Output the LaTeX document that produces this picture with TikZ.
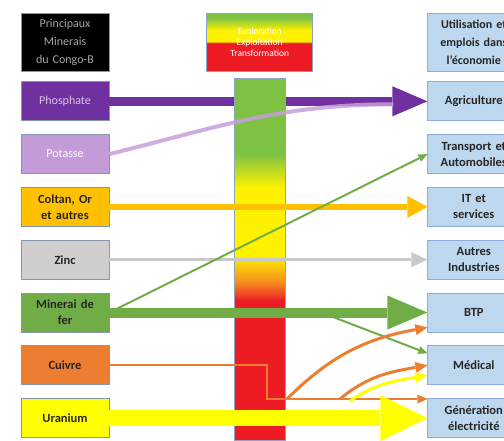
\documentclass[tikz,border=0pt]{standalone}
\usepackage{fontspec}
\setmainfont{Carlito}
\usetikzlibrary{positioning, arrows.meta, calc}

\definecolor{violetfonce}{HTML}{7030A0}
\definecolor{violetclair}{HTML}{C39BD8}
\definecolor{potassetrait}{HTML}{C79FDA}
\definecolor{lavande}{HTML}{D9C6EA}
\definecolor{coltanjaune}{HTML}{FFC000}
\definecolor{zincgris}{HTML}{D0CECE}
\definecolor{zincfleche}{HTML}{C9C9C9}
\definecolor{fervert}{HTML}{70AD47}
\definecolor{cuivreorange}{HTML}{ED7D31}
\definecolor{uraniumjaune}{HTML}{FFFF00}
\definecolor{usagebleu}{HTML}{BDD7EE}
\definecolor{usagebord}{HTML}{8FAADC}
\definecolor{bord}{HTML}{8497B0}
\definecolor{texte}{HTML}{262626}
\definecolor{grisclair}{HTML}{A6A6A6}
\definecolor{barrevert}{HTML}{7DC242}
\definecolor{barrejaune}{HTML}{FFF200}
\definecolor{barreorange}{HTML}{F7941D}
\definecolor{barrerouge}{HTML}{ED1C24}
\definecolor{barrebord}{HTML}{8EA3C8}

\pgfdeclareverticalshading{etapeshade}{100bp}{color(0bp)=(barrerouge); color(49bp)=(barrerouge); color(50.5bp)=(barrejaune); color(60bp)=(barrejaune); color(71bp)=(barrevert); color(100bp)=(barrevert)}
\pgfdeclareverticalshading{barreshade}{100bp}{color(0bp)=(barrerouge); color(44.3bp)=(barrerouge); color(47.1bp)=(barreorange); color(50.6bp)=(barrejaune); color(59.9bp)=(barrejaune); color(64.6bp)=(barrevert); color(100bp)=(barrevert)}

\tikzstyle{case} = [rectangle, minimum width=88pt, minimum height=39pt, text width=86pt, align=center, inner sep=0pt, draw=bord, line width=0.8pt, text=texte, font=\fontsize{12.5}{16}\selectfont\bfseries]
\tikzstyle{clair} = [font=\fontsize{12}{16}\selectfont]
\tikzstyle{entete} = [case, minimum height=58pt, font=\fontsize{12}{18}\selectfont]
\tikzstyle{usage} = [fill=usagebleu, draw=usagebord, minimum width=92pt, text width=90pt]
\tikzstyle{barre} = [rectangle, minimum width=51pt, minimum height=362pt, draw=barrebord, line width=0.6pt, shading=barreshade]

\begin{document}
\begin{tikzpicture}[x=1pt, y=1pt]
    \useasboundingbox (0,0) rectangle (504,-440);
    \clip (0,0) rectangle (504,-440);

    % minerais
    \node (minerais) [entete, fill=black, text=grisclair] at (65,-42) {Principaux\\Minerais\\du Congo-B};
    \node (phosphate) [case, clair, fill=violetfonce, text=lavande, below=10pt of minerais] {Phosphate};
    \node (potasse) [case, clair, fill=violetclair, text=white, below=13pt of phosphate] {Potasse};
    \node (coltan) [case, fill=coltanjaune, below=13pt of potasse] {Coltan, Or\\et autres};
    \node (zinc) [case, fill=zincgris, below=13pt of coltan] {Zinc};
    \node (fer) [case, fill=fervert, below=13pt of zinc] {Minerai de\\fer};
    \node (cuivre) [case, fill=cuivreorange, below=13pt of fer] {Cuivre};
    \node (uranium) [case, fill=uraniumjaune, below=13pt of cuivre] {Uranium};

    % usages
    \node (utilisation) [entete, usage, font=\fontsize{12}{18}\selectfont\bfseries, right=318pt of minerais] {Utilisation et\\emplois dans\\l'économie};
    \node (agri) [case, usage, below=10pt of utilisation] {Agriculture};
    \node (transport) [case, usage, below=13pt of agri] {Transport et\\Automobiles};
    \node (it) [case, usage, below=13pt of transport] {IT et\\services};
    \node (autres) [case, usage, below=13pt of it] {Autres\\Industries};
    \node (btp) [case, usage, below=13pt of autres] {BTP};
    \node (medical) [case, usage, below=13pt of btp] {Médical};
    \node (generation) [case, usage, below=13pt of medical] {Génération\\électricité};

    % etapes
    \node (etapes) [entete, shading=etapeshade, draw=barrebord, line width=0.6pt, minimum width=106pt, text width=104pt, text=white, font=\fontsize{9.5}{11}\selectfont, right=97pt of minerais] {Exploration\\Exploitation\\Transformation};

    \draw [violetfonce, line width=9pt, -{Triangle[length=35pt, width=30pt, line width=0pt]}] (phosphate) -- (agri);
    \node (filiere) [barre, below=7pt of etapes] {};

    \coordinate (potfin) at ($(agri.west)+(-34,-3)$);
    \draw [potassetrait, line width=4pt, opacity=0.85] (potasse.east) to[out=14, in=180] (potfin);

    \draw [coltanjaune, line width=6pt, -{Triangle[length=20pt, width=22pt, line width=0pt]}] (coltan) -- (it);
    \draw [zincfleche, line width=3.5pt, -{Triangle[length=16pt, width=15pt, line width=0pt]}] (zinc) -- (autres);

    \draw [fervert, line width=2pt, -{Triangle[length=9pt, width=8pt, line width=0pt]}] (fer.east) -- (transport.west);
    \draw [fervert, line width=2pt, -{Triangle[length=9pt, width=8pt, line width=0pt]}] (fer.east) -- ++(212,0) -- ($(medical.west)+(0,12)$);
    \draw [fervert, line width=10pt, -{Triangle[length=40pt, width=34pt, line width=0pt]}] (fer) -- (btp);

    % cuivre
    \coordinate (coude) at (267,-399);
    \coordinate (cu1) at (287,-399);
    \coordinate (cu2) at (340,-399);
    \coordinate (ur1) at (350,-401);
    \draw [cuivreorange, line width=1.8pt, -{Triangle[length=10pt, width=9pt, line width=0pt]}] (cuivre.east) -| (coude) -- (coude -| generation.west);
    \draw [cuivreorange, line width=3pt, -{Triangle[length=12pt, width=11pt, line width=0pt]}] (cu1) to[out=45, in=190] ($(btp.west)+(0,-15)$);
    \draw [cuivreorange, line width=3pt, -{Triangle[length=12pt, width=11pt, line width=0pt]}] (cu2) to[out=40, in=190] (medical.west);
    \draw [uraniumjaune, line width=3pt, -{Triangle[length=12pt, width=11pt, line width=0pt]}] (ur1) to[out=35, in=190] ($(medical.west)+(0,-10)$);

    \draw [uraniumjaune, line width=16pt, -{Triangle[length=47pt, width=46pt, line width=0pt]}] (uranium) -- (generation);
\end{tikzpicture}
\end{document}
